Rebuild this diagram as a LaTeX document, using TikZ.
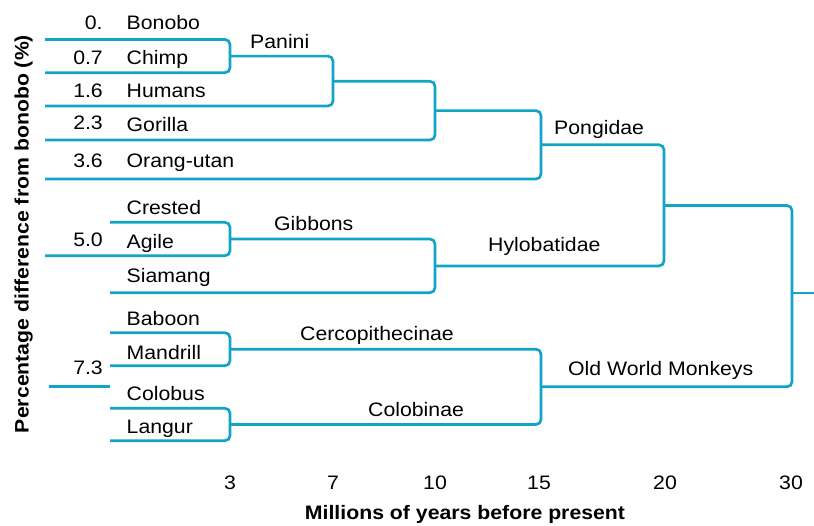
\documentclass[tikz,border=0pt]{standalone}
\usepackage{fontspec}
\setmainfont{Liberation Sans}[FakeStretch=1.09]
\definecolor{branch}{HTML}{12A4C6}
\begin{document}
\begin{tikzpicture}[x=1pt,y=-1pt,
  br/.style={draw=branch,line width=2.7pt,rounded corners=5pt},
  leaf/.style={anchor=base west,inner sep=0pt,font=\fontsize{19.5}{23}\selectfont},
  val/.style={anchor=base east,inner sep=0pt,font=\fontsize{19.5}{23}\selectfont},
  clade/.style={anchor=base west,inner sep=0pt,font=\fontsize{19.5}{23}\selectfont},
  tick/.style={anchor=base,inner sep=0pt,font=\fontsize{19.5}{23}\selectfont},
  axis/.style={anchor=base,inner sep=0pt,font=\fontsize{19.5}{23}\selectfont\bfseries}]
\useasboundingbox (0,0) rectangle (814,525);
% leaf line ends
\coordinate (L1) at (45,39.5);
\coordinate (L2) at (45,72.7);
\coordinate (L3) at (45,106);
\coordinate (L4) at (45,140);
\coordinate (L5) at (45,179);
\coordinate (G1) at (110,222.3);
\coordinate (G2) at (45,255.7);
\coordinate (G3) at (110,292.7);
\coordinate (C1) at (110,332.7);
\coordinate (C2) at (110,365.7);
\coordinate (C3) at (110,408.3);
\coordinate (C4) at (110,440.7);
\coordinate (X1) at (49,386.7);
\coordinate (X2) at (110,386.7);
% junctions
\coordinate (pan) at (230,56.1);
\coordinate (hom) at (333,81.3);
\coordinate (hom2) at (435,110.6);
\coordinate (pong) at (541,144.8);
\coordinate (gib) at (230,239);
\coordinate (hylo) at (435,265.9);
\coordinate (ape) at (664,205.5);
\coordinate (cerc) at (230,349.2);
\coordinate (colo) at (230,424.5);
\coordinate (owm) at (541,386.8);
\coordinate (root) at (792,293);
\coordinate (rootend) at (814,293);
% branches
\draw[br] (L1) -| (pan) |- (L2);
\draw[br] (pan) -| (hom) |- (L3);
\draw[br] (hom) -| (hom2) |- (L4);
\draw[br] (hom2) -| (pong) |- (L5);
\draw[br] (G1) -| (gib) |- (G2);
\draw[br] (gib) -| (hylo) |- (G3);
\draw[br] (pong) -| (ape) |- (hylo);
\draw[br] (C1) -| (cerc) |- (C2);
\draw[br] (C3) -| (colo) |- (C4);
\draw[br] (cerc) -| (owm) |- (colo);
\draw[br] (ape) -| (root) |- (owm);
\draw[br] (root) -- (rootend);
\draw[br] (X1) -- (X2);
% values
\node[val] (v1) at (102.7,29.5) {0.};
\node[val] (v2) at (103,64) {0.7};
\node[val] (v3) at (103,97.5) {1.6};
\node[val] (v4) at (103,129.5) {2.3};
\node[val] (v5) at (103,167) {3.6};
\node[val] (v6) at (103,246.5) {5.0};
\node[val] (v7) at (103,374) {7.3};
% leaves
\node[leaf] (bonobo) at (126.5,29.5) {Bonobo};
\node[leaf] (chimp) at (126.5,64) {Chimp};
\node[leaf] (humans) at (126.5,97.5) {Humans};
\node[leaf] (gorilla) at (126.5,131.5) {Gorilla};
\node[leaf] (orang) at (126.5,167) {Orang-utan};
\node[leaf] (crested) at (126.5,214.5) {Crested};
\node[leaf] (agile) at (126.5,248.5) {Agile};
\node[leaf] (siamang) at (126.5,282.5) {Siamang};
\node[leaf] (baboon) at (126.5,325.5) {Baboon};
\node[leaf] (mandrill) at (126.5,359) {Mandrill};
\node[leaf] (colobus) at (126.5,400) {Colobus};
\node[leaf] (langur) at (126.5,433.5) {Langur};
% clades
\node[clade] (tpanini) at (250,48) {Panini};
\node[clade] (tgibbons) at (274,230.5) {Gibbons};
\node[clade] (tcerc) at (300,340.5) {Cercopithecinae};
\node[clade] (tcolob) at (368,416.5) {Colobinae};
\node[clade] (tpong) at (554,134) {Pongidae};
\node[clade] (thylo) at (488,251.5) {Hylobatidae};
\node[clade] (towm) at (568,375.5) {Old World Monkeys};
% axis
\node[tick] (t3) at (230,489) {3};
\node[tick] (t7) at (333,489) {7};
\node[tick] (t10) at (435,489) {10};
\node[tick] (t15) at (539,489) {15};
\node[tick] (t20) at (665,489) {20};
\node[tick] (t30) at (791,489) {30};
\node[axis] (xlab) at (465,519.5) {Millions of years before present};
\node[axis,rotate=90] (ylab) at (28.5,234) {Percentage difference from bonobo (\%)};
\end{tikzpicture}
\end{document}
